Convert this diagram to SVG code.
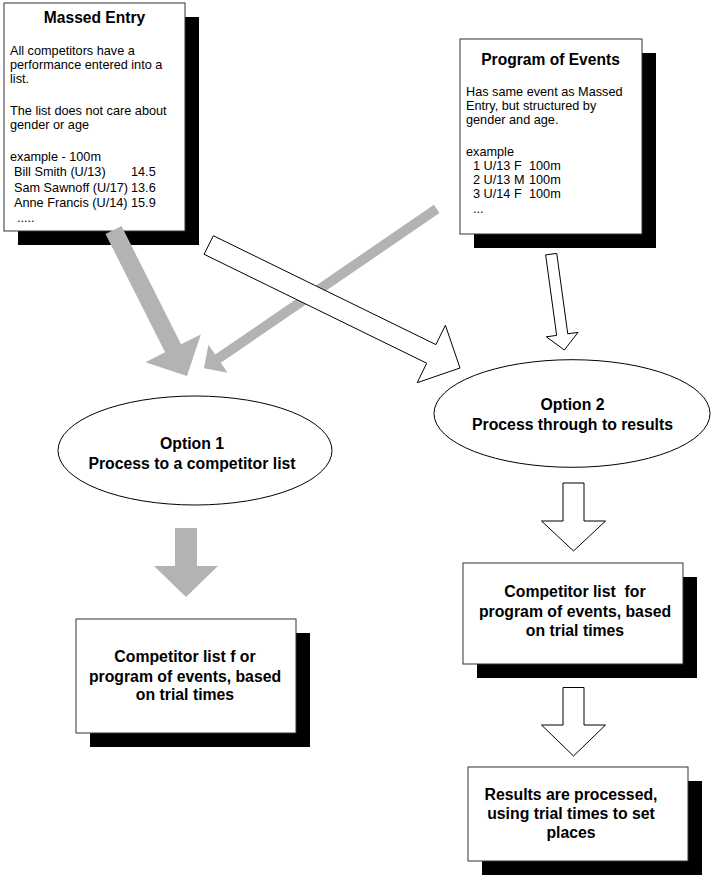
<svg xmlns="http://www.w3.org/2000/svg" width="714" height="882" viewBox="0 0 714 882">
<style>
.box{fill:#fff;stroke:#333;stroke-width:1}
.shadow{fill:#000}
.ell{fill:#fff;stroke:#000;stroke-width:1}
.title{font-family:"Liberation Sans",Arial,sans-serif;font-weight:bold;font-size:15.6px;fill:#000;text-anchor:middle}
.body{font-family:"Liberation Sans",Arial,sans-serif;font-size:12.7px;fill:#000}
.lbl{font-family:"Liberation Sans",Arial,sans-serif;font-weight:bold;font-size:15.8px;fill:#000;text-anchor:middle}
.garrow{fill:#b3b3b3;stroke:none}
.warrow{fill:#fff;stroke:#000;stroke-width:1;stroke-linejoin:miter}
</style>
<rect width="714" height="882" fill="#fff"/>
<g id="massed-entry">
<rect class="shadow" x="18" y="17" width="181" height="228"/>
<rect class="box" x="4" y="3" width="181" height="228"/>
<text class="title" x="94.5" y="23">Massed Entry</text>
<text class="body" x="10" y="55">All competitors have a</text>
<text class="body" x="10" y="69.3">performance entered into a</text>
<text class="body" x="10" y="83.3">list.</text>
<text class="body" x="10" y="115">The list does not care about</text>
<text class="body" x="10" y="129.3">gender or age</text>
<text class="body" x="10" y="160.7">example - 100m</text>
<text class="body" y="176"><tspan x="14">Bill Smith (U/13)</tspan><tspan x="131">14.5</tspan></text>
<text class="body" y="191.7"><tspan x="14">Sam Sawnoff (U/17)</tspan><tspan x="131">13.6</tspan></text>
<text class="body" y="206.7"><tspan x="14">Anne Francis (U/14)</tspan><tspan x="131">15.9</tspan></text>
<text class="body" x="17" y="221.7">.....</text>
</g>
<g id="program-of-events">
<rect class="shadow" x="474" y="53" width="182" height="195"/>
<rect class="box" x="460" y="39" width="182" height="195"/>
<text class="title" x="550.5" y="65">Program of Events</text>
<text class="body" x="466" y="96">Has same event as Massed</text>
<text class="body" x="466" y="110">Entry, but structured by</text>
<text class="body" x="466" y="124.3">gender and age.</text>
<text class="body" x="466" y="156">example</text>
<text class="body" y="170"><tspan x="473">1 U/13 F</tspan><tspan x="529">100m</tspan></text>
<text class="body" y="184.3"><tspan x="473">2 U/13 M</tspan><tspan x="529">100m</tspan></text>
<text class="body" y="198.3"><tspan x="473">3 U/14 F</tspan><tspan x="529">100m</tspan></text>
<text class="body" x="473" y="212.7">...</text>
</g>
<g id="option-1">
<ellipse class="ell" cx="195" cy="450.5" rx="137" ry="54.5"/>
<text class="lbl" x="192" y="449.3">Option 1</text>
<text class="lbl" x="192" y="469.3">Process to a competitor list</text>
</g>
<g id="option-2">
<ellipse class="ell" cx="572" cy="413.5" rx="138" ry="53.8"/>
<text class="lbl" x="572.5" y="410">Option 2</text>
<text class="lbl" x="572.5" y="430">Process through to results</text>
</g>
<g id="competitor-list-1">
<rect class="shadow" x="90" y="633" width="220" height="114"/>
<rect class="box" x="76" y="619" width="220" height="114"/>
<text class="lbl" x="185" y="661.7">Competitor list f or</text>
<text class="lbl" x="185" y="681.7">program of events, based</text>
<text class="lbl" x="185" y="699.7">on trial times</text>
</g>
<g id="competitor-list-2">
<rect class="shadow" x="477" y="577" width="220" height="101"/>
<rect class="box" x="463" y="563" width="220" height="101"/>
<text class="lbl" x="575" y="596.7" xml:space="preserve">Competitor list  for</text>
<text class="lbl" x="575" y="616.7">program of events, based</text>
<text class="lbl" x="575" y="635.7">on trial times</text>
</g>
<g id="results">
<rect class="shadow" x="482" y="781" width="220" height="94"/>
<rect class="box" x="468" y="767" width="220" height="94"/>
<text class="lbl" x="571" y="800">Results are processed,</text>
<text class="lbl" x="571" y="819.3">using trial times to set</text>
<text class="lbl" x="571" y="837.7">places</text>
</g>
<g id="connectors">
<polygon class="garrow" points="105.5,234 121.5,226 181.1,344.3 200.8,334.4 187,376 145.4,362.2 165.1,352.3"/>
<polygon class="garrow" points="433.9,204.8 439.5,213 220.8,362.8 227.6,372.7 204,368.3 208.4,344.7 215.2,354.6"/>
<polygon class="warrow" points="213.3,235.7 435.9,344.6 445.4,325.2 460,368 417.2,382.7 426.7,363.2 204.1,254.3"/>
<polygon class="warrow" points="545.65,254.9 556.75,253.4 567.75,333.8 578.05,332.4 564.3,350 546.35,336.8 556.65,335.4"/>
<polygon class="garrow" points="175,528 197,528 197,566 218,566 186,597 154,566 175,566"/>
<polygon class="warrow" points="563,483 584,483 584,521 605.5,521 573.5,551 541.5,521 563,521"/>
<polygon class="warrow" points="563,687.5 584,687.5 584,725 605.5,725 573.5,756 541.5,725 563,725"/>
</g>
</svg>
